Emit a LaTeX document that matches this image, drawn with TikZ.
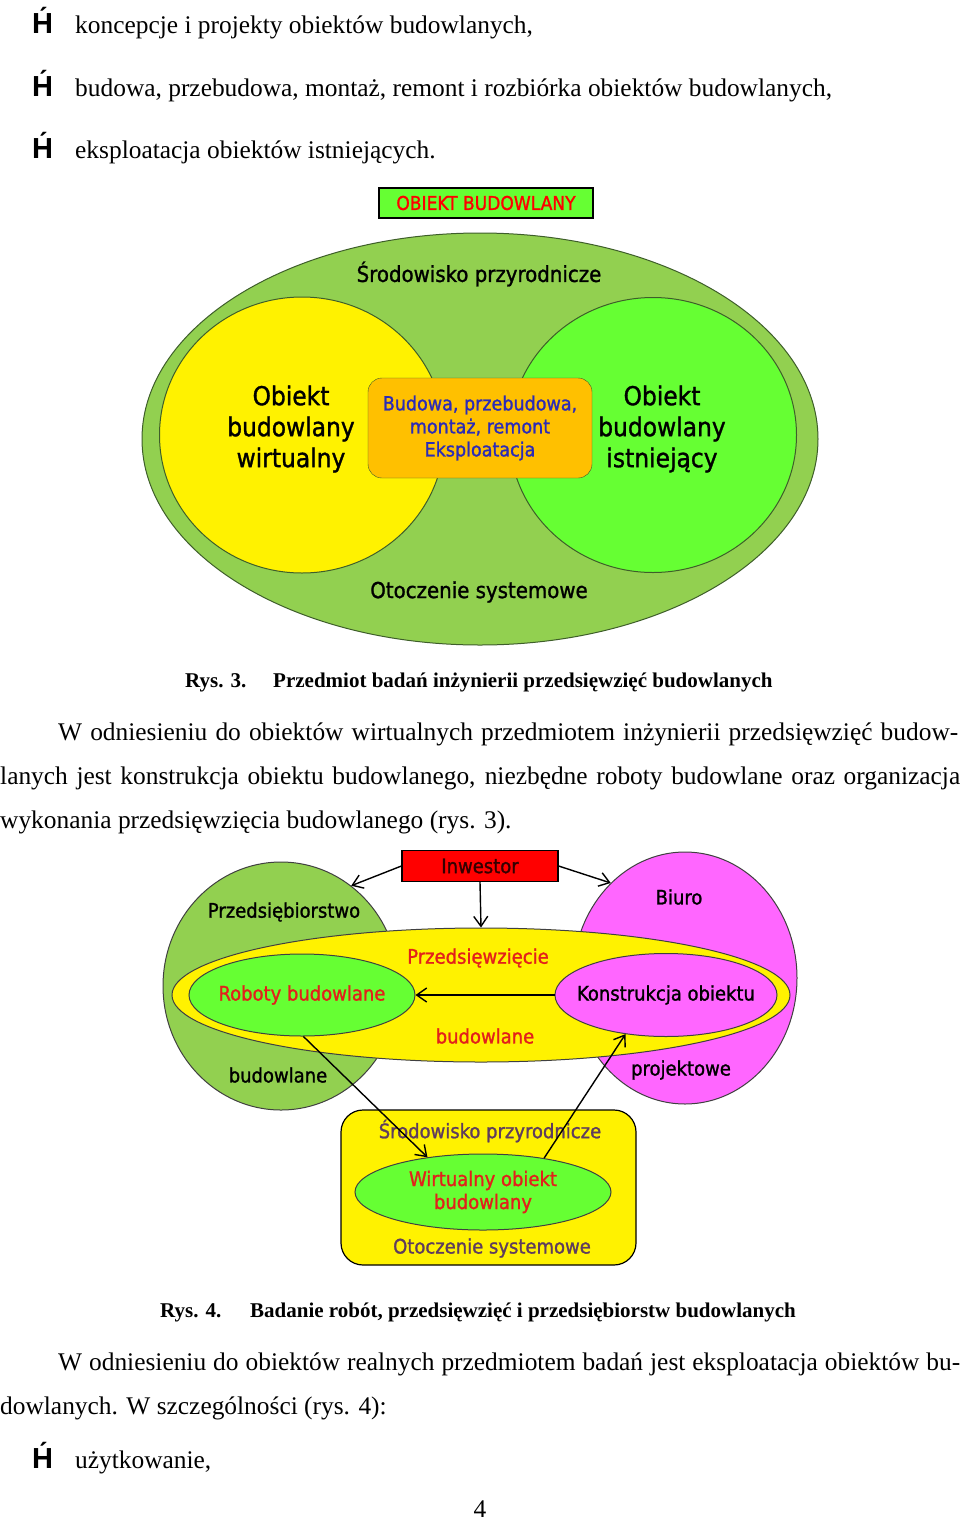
\documentclass[tikz,border=0pt]{standalone}
\usepackage{fontspec}
\setmainfont{Liberation Serif}
\newfontfamily\diagfont[FakeBold=1.2]{DejaVu Sans Condensed}
\newfontfamily\bulfont{Liberation Sans}
\usetikzlibrary{shapes.geometric,arrows.meta}

\definecolor{olivegr}{HTML}{92D050}
\definecolor{lightgr}{HTML}{66FF33}
\definecolor{orangeb}{HTML}{FFC000}
\definecolor{pinkb}{HTML}{FF66FF}
\definecolor{bluetxt}{HTML}{2B2BB8}
\definecolor{redtxt}{HTML}{E3201B}
\definecolor{purptxt}{HTML}{5E3C5E}
\definecolor{edgegr}{HTML}{3E5E2A}

\tikzset{
  body/.style={font=\fontsize{25.4}{30}\selectfont, inner sep=0pt, anchor=base west},
  capt/.style={font=\fontsize{21}{25}\selectfont\bfseries, inner sep=0pt, anchor=base west},
  bul/.style={font=\fontsize{29}{30}\bulfont\bfseries, inner sep=0pt, anchor=base west},
  blob/.style={ellipse, draw=edgegr, line width=1pt, inner sep=0pt},
  lbl/.style={font=\fontsize{22}{26}\diagfont, inner sep=0pt, align=center},
  small/.style={font=\fontsize{20}{23}\diagfont, inner sep=0pt, align=center},
  big/.style={font=\fontsize{26}{31}\diagfont, inner sep=0pt, align=center},
  arr/.style={-{Straight Barb[length=10pt,width=14pt]}, line width=1.4pt},
}

\begin{document}
\begin{tikzpicture}[x=1pt,y=-1pt]
\useasboundingbox[fill=white] (0,0) rectangle (960,1521);

% list at the top
\node[bul] (b1) at (32,33) {H́};
\node[body] (t1) at (75,33) {koncepcje i projekty obiektów budowlanych,};
\node[bul] (b2) at (32,96) {H́};
\node[body] (t2) at (75,96) {budowa, przebudowa, montaż, remont i rozbiórka obiektów budowlanych,};
\node[bul] (b3) at (32,158) {H́};
\node[body] (t3) at (75,158) {eksploatacja obiektów istniejących.};

% Rys. 3
\node[draw, line width=2.5pt, fill=lightgr, minimum width=214, minimum height=30, text=red, font=\fontsize{19}{20}\diagfont] (title) at (486,203) {OBIEKT BUDOWLANY};
\node[blob, fill=olivegr, minimum width=676, minimum height=412] (env) at (480,439) {};
\node[blob, fill=yellow, minimum width=285, minimum height=276] (virt) at (302,435) {};
\node[blob, fill=lightgr, minimum width=287, minimum height=275] (real) at (653,435) {};
\node[draw=edgegr, fill=orangeb, rounded corners=14, minimum width=224, minimum height=100, text=bluetxt, font=\fontsize{19.5}{23}\diagfont, align=center] (work) at (480,428) {Budowa, przebudowa,\\montaż, remont\\Eksploatacja};
\node[big] (virtl) at (291,429) {Obiekt\\budowlany\\wirtualny};
\node[big] (reall) at (662,429) {Obiekt\\budowlany\\istniejący};
\node[lbl] (nat) at (479,274) {Środowisko przyrodnicze};
\node[lbl] (sys) at (479,592) {Otoczenie systemowe};

\node[capt] (c3a) at (185,687) {Rys. 3.};
\node[capt] (c3b) at (273,687) {Przedmiot badań inżynierii przedsięwzięć budowlanych};

\node[body] (p1) at (58,740) {\makebox[900pt][s]{W odniesieniu do obiektów wirtualnych przedmiotem inżynierii przedsięwzięć budow-}};
\node[body] (p2) at (0,784) {\makebox[960pt][s]{lanych jest konstrukcja obiektu budowlanego, niezbędne roboty budowlane oraz organizacja}};
\node[body] (p3) at (0,828) {wykonania przedsięwzięcia budowlanego (rys. 3).};

% Rys. 4
\node[blob, draw=black!75, fill=olivegr, minimum width=236, minimum height=248] (firm) at (281,986) {};
\node[blob, draw=black!75, fill=pinkb, minimum width=224, minimum height=252] (office) at (685,978) {};
\node[blob, draw=black!75, fill=yellow, minimum width=618, minimum height=134] (proj) at (481,995) {};
\node[blob, draw=black!75, fill=lightgr, minimum width=226, minimum height=82] (works) at (302,995) {};
\node[small, text=redtxt] (worksl) at (works.center) {Roboty budowlane};
\node[blob, draw=black!75, fill=pinkb, minimum width=222, minimum height=83] (design) at (666,995) {};
\node[small] (designl) at (design.center) {Konstrukcja obiektu};
\node[draw, line width=1.2pt, fill=red, minimum width=156, minimum height=31, text=black!80!red, small] (inv) at (480,866) {Inwestor};
\node[small] (firma) at (284,912) {Przedsiębiorstwo};
\node[small] (firmb) at (278,1075) {budowlane};
\node[small] (offa) at (679,897) {Biuro};
\node[small] (offb) at (681,1070) {projektowe};
\node[small, text=redtxt] (proja) at (478,958) {Przedsięwzięcie};
\node[small, text=redtxt] (projb) at (485,1036) {budowlane};

\node[draw, line width=1.2pt, fill=yellow, rounded corners=22, minimum width=295, minimum height=155] (env2) at (488.5,1187.5) {};
\node[small, text=purptxt] (nat2) at (490,1131) {Środowisko przyrodnicze};
\node[small, text=purptxt] (sys2) at (492,1248) {Otoczenie systemowe};
\node[blob, draw=black!75, fill=lightgr, minimum width=256, minimum height=76, text=redtxt, small] (virt2) at (483,1192) {Wirtualny obiekt\\budowlany};

\draw[arr] (inv.west) -- (firm.55);
\draw[arr] (inv.east) -- (office.128);
\draw[arr] (inv.south) -- (proj.north);
\draw[arr] (design.west) -- (works.east);
\draw[arr] (works.272) -- (virt2.148);
\draw[arr] (virt2.29) -- (design.224);

\node[capt] (c4a) at (160,1317) {Rys. 4.};
\node[capt] (c4b) at (250,1317) {Badanie robót, przedsięwzięć i przedsiębiorstw budowlanych};

\node[body] (q1) at (58,1370) {\makebox[902pt][s]{W odniesieniu do obiektów realnych przedmiotem badań jest eksploatacja obiektów bu-}};
\node[body] (q2) at (0,1414) {dowlanych. W szczególności (rys. 4):};
\node[bul] (b4) at (32,1468) {H́};
\node[body] (t4) at (75,1468) {użytkowanie,};
\node[body, anchor=base] (pg) at (480,1517) {4};
\end{tikzpicture}
\end{document}
